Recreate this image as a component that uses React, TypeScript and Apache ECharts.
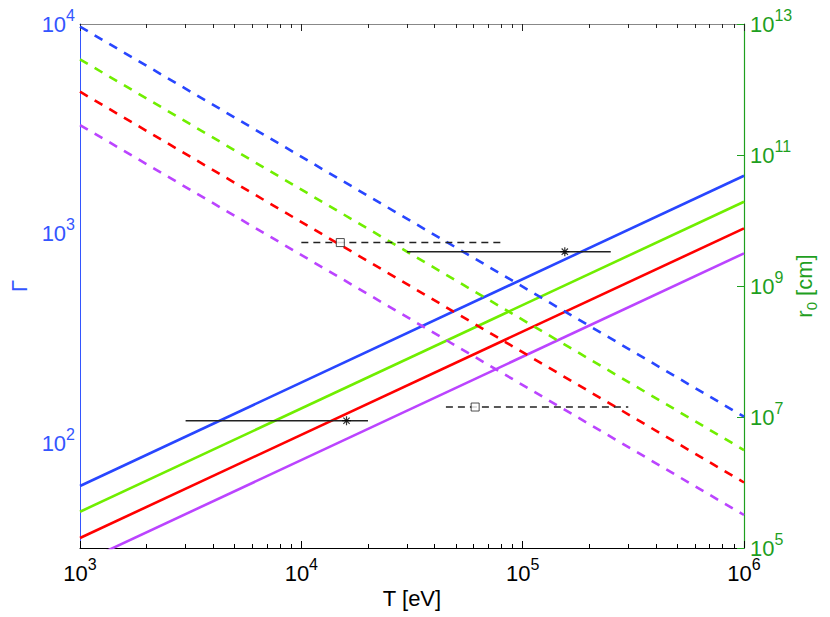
import React, { useEffect, useRef } from 'react';
import * as echarts from 'echarts';

// Axis ranges
const T_MIN = 1e3;
const T_MAX = 1e6;
const GAMMA_MIN = 31.62; // 10^1.5
const GAMMA_MAX = 1e4;
const R0_MIN = 1e5;
const R0_MAX = 1e13;

// Minor tick values on the T axis
const T_MINOR_TICKS = [
  2e3, 3e3, 4e3, 5e3, 6e3, 7e3, 8e3, 9e3,
  2e4, 3e4, 4e4, 5e4, 6e4, 7e4, 8e4, 9e4,
  2e5, 3e5, 4e5, 5e5, 6e5, 7e5, 8e5, 9e5,
];

// Line end points (T at both ends)
const T_ENDS = [1e3, 1e6];

// Gamma (solid, left axis)
const gammaBlue = [62.5, 1889];
const gammaGreen = [47.1, 1419];
const gammaRed = [35.3, 1059];
const gammaPurple = [26.7, 805];

// r0 (dashed, right axis)
const r0Blue = [9.1e12, 1.01e7];
const r0Green = [2.89e12, 3.13e6];
const r0Red = [9.25e11, 1.0e6];
const r0Purple = [2.87e11, 3.19e5];

// Observations: Gamma (solid bars, asterisk)
const gammaObsT = [1.55e5, 1.6e4];
const gammaObsLo = [3.0e4, 3.0e3];
const gammaObsHi = [2.5e5, 2.0e4];
const gammaObsVal = [820, 128];

// Observations: r0 (dashed bars, square)
const r0ObsT = [1.5e4, 6.1e4];
const r0ObsLo = [1.0e4, 4.5e4];
const r0ObsHi = [8.0e4, 3.0e5];
const r0ObsVal = [4.6e9, 1.42e7];

const COLORS = {
  blue: '#2846ff',
  green: '#70ee00',
  red: '#ff0000',
  purple: '#bb44ff',
};
const AXIS_BLUE = '#3355ff';
const AXIS_GREEN = '#1f9f1f';
const FONT = 'Liberation Sans, Arial, Helvetica, sans-serif';

const ASTERISK =
  'path://M5,0L5,10M0,5L10,5M1.5,1.5L8.5,8.5M1.5,8.5L8.5,1.5';

const powLabel = (v: number) => {
  const l = Math.log10(v);
  const e = Math.round(l);
  if (Math.abs(l - e) > 1e-3) return '';
  return `{b|10}{s|${e}}`;
};

const rich = (color: string) => ({
  b: { fontSize: 22, lineHeight: 34, color, fontFamily: FONT },
  s: { fontSize: 16, lineHeight: 18, verticalAlign: 'top', color, fontFamily: FONT },
});

export default function App() {
  const ref = useRef<HTMLDivElement>(null);

  useEffect(() => {
    if (!ref.current) return;
    const chart = echarts.init(ref.current, undefined, { renderer: 'svg' });

    const solid = (name: string, vals: number[], color: string) => ({
      name,
      type: 'line',
      xAxisIndex: 0,
      yAxisIndex: 0,
      data: T_ENDS.map((t, i) => [t, vals[i]]),
      showSymbol: false,
      symbol: 'none',
      lineStyle: { color, width: 2.6, type: 'solid' },
      clip: true,
      z: 3,
    });
    const dashed = (name: string, vals: number[], color: string) => ({
      name,
      type: 'line',
      xAxisIndex: 0,
      yAxisIndex: 1,
      data: T_ENDS.map((t, i) => [t, vals[i]]),
      showSymbol: false,
      symbol: 'none',
      lineStyle: { color, width: 2.6, type: [9, 8] },
      clip: true,
      z: 3,
    });

    const obsSeries: any[] = [];
    gammaObsT.forEach((t, i) => {
      obsSeries.push({
        type: 'line',
        xAxisIndex: 0,
        yAxisIndex: 0,
        data: [
          [gammaObsLo[i], gammaObsVal[i]],
          [gammaObsHi[i], gammaObsVal[i]],
        ],
        symbol: 'none',
        lineStyle: { color: '#222', width: 1.5, type: 'solid' },
        z: 5,
      });
    });
    r0ObsT.forEach((t, i) => {
      obsSeries.push({
        type: 'line',
        xAxisIndex: 0,
        yAxisIndex: 1,
        data: [
          [r0ObsLo[i], r0ObsVal[i]],
          [r0ObsHi[i], r0ObsVal[i]],
        ],
        symbol: 'none',
        lineStyle: { color: '#222', width: 1.5, type: [7, 5] },
        z: 5,
      });
    });
    obsSeries.push({
      type: 'scatter',
      xAxisIndex: 0,
      yAxisIndex: 0,
      data: gammaObsT.map((t, i) => [t, gammaObsVal[i]]),
      symbol: ASTERISK,
      symbolSize: 9,
      itemStyle: { color: 'transparent', borderColor: '#000', borderWidth: 1.2 },
      z: 6,
    });
    obsSeries.push({
      type: 'scatter',
      xAxisIndex: 0,
      yAxisIndex: 1,
      data: r0ObsT.map((t, i) => [t, r0ObsVal[i]]),
      symbol: 'rect',
      symbolSize: 8,
      itemStyle: { color: '#fff', borderColor: '#222', borderWidth: 1 },
      z: 6,
    });

    const baseX = {
      type: 'log',
      logBase: 10,
      min: T_MIN,
      max: T_MAX,
      gridIndex: 0,
      splitLine: { show: false },
      minorTick: { show: false },
    };

    chart.setOption({
      animation: false,
      backgroundColor: '#fff',
      textStyle: { fontFamily: FONT },
      grid: {
        left: 80,
        right: 86,
        top: 24,
        bottom: 69,
        containLabel: false,
        outerBoundsMode: 'none',
      },
      xAxis: [
        {
          ...baseX,
          position: 'bottom',
          axisLine: { show: true, lineStyle: { color: '#000', width: 1 } },
          axisTick: { show: true, inside: true, length: 7, lineStyle: { color: '#000', width: 1 } },
          axisLabel: {
            show: true,
            margin: 8,
            formatter: powLabel,
            rich: rich('#000'),
            showMinLabel: true,
            showMaxLabel: true,
            hideOverlap: false,
          },
          name: 'T [eV]',
          nameLocation: 'middle',
          nameGap: 39,
          nameMoveOverlap: false,
          nameTextStyle: { fontSize: 22, color: '#000', fontFamily: FONT },
        },
        {
          ...baseX,
          position: 'bottom',
          axisLine: { show: false },
          axisTick: {
            show: true,
            inside: true,
            length: 4,
            customValues: T_MINOR_TICKS,
            lineStyle: { color: '#000', width: 1 },
          },
          axisLabel: { show: false },
        },
        {
          ...baseX,
          position: 'top',
          axisLine: { show: true, lineStyle: { color: '#888', width: 1.2 } },
          axisTick: { show: true, inside: true, length: 7, lineStyle: { color: '#222', width: 1 } },
          axisLabel: { show: false },
        },
        {
          ...baseX,
          position: 'top',
          axisLine: { show: false },
          axisTick: {
            show: true,
            inside: true,
            length: 4,
            customValues: T_MINOR_TICKS,
            lineStyle: { color: '#222', width: 1 },
          },
          axisLabel: { show: false },
        },
      ],
      yAxis: [
        {
          type: 'log',
          logBase: 10,
          min: GAMMA_MIN,
          max: GAMMA_MAX,
          position: 'left',
          axisLine: { show: true, lineStyle: { color: AXIS_BLUE, width: 1 } },
          axisTick: { show: false },
          splitLine: { show: false },
          axisLabel: {
            show: true,
            margin: 5,
            formatter: powLabel,
            rich: rich(AXIS_BLUE),
            showMinLabel: true,
            showMaxLabel: true,
          },
          name: 'Γ',
          nameLocation: 'middle',
          nameGap: 50,
          nameMoveOverlap: false,
          nameTextStyle: { fontSize: 22, color: AXIS_BLUE, fontFamily: FONT },
        },
        {
          type: 'log',
          logBase: 10,
          min: R0_MIN,
          max: R0_MAX,
          interval: 2,
          position: 'right',
          axisLine: { show: true, lineStyle: { color: AXIS_GREEN, width: 1.2 } },
          axisTick: { show: true, inside: true, length: 7, lineStyle: { color: AXIS_GREEN, width: 1 } },
          splitLine: { show: false },
          axisLabel: {
            show: true,
            margin: 6,
            formatter: powLabel,
            rich: rich(AXIS_GREEN),
            showMinLabel: true,
            showMaxLabel: true,
            hideOverlap: false,
          },
          name: '{r|r}{sub|0}{r| [cm]}',
          nameLocation: 'middle',
          nameGap: 45,
          nameMoveOverlap: false,
          nameTextStyle: {
            color: AXIS_GREEN,
            rich: {
              r: { fontSize: 22, color: AXIS_GREEN, fontFamily: FONT, lineHeight: 30 },
              sub: { fontSize: 15, color: AXIS_GREEN, fontFamily: FONT, lineHeight: 14, verticalAlign: 'bottom' },
            },
          },
        },
      ],
      series: [
        solid('blue-g', gammaBlue, COLORS.blue),
        solid('green-g', gammaGreen, COLORS.green),
        solid('red-g', gammaRed, COLORS.red),
        solid('purple-g', gammaPurple, COLORS.purple),
        dashed('blue-r', r0Blue, COLORS.blue),
        dashed('green-r', r0Green, COLORS.green),
        dashed('red-r', r0Red, COLORS.red),
        dashed('purple-r', r0Purple, COLORS.purple),
        ...obsSeries,
      ],
    });

    return () => chart.dispose();
  }, []);

  return (
    <div
      ref={ref}
      style={{ position: 'absolute', left: 0, top: 0, width: 830, height: 617 }}
    />
  );
}
